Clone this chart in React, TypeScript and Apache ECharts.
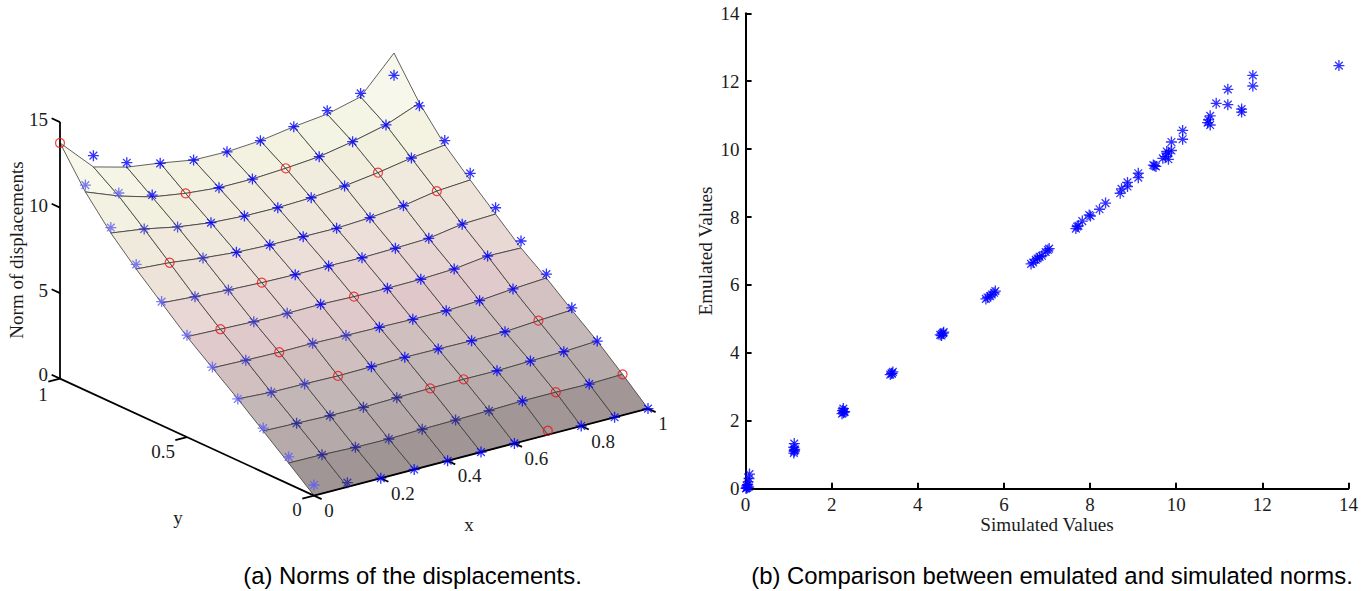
import React, { useEffect, useRef } from "react";
import * as echarts from "echarts";

// ---- left panel: norm of displacements on an 11 x 11 grid (rows y = 1 ... 0, columns x = 0 ... 1)
const gridXs = [0, 0.1, 0.2, 0.3, 0.4, 0.5, 0.6, 0.7, 0.8, 0.9, 1];
const gridYs = [1, 0.9, 0.8, 0.7, 0.6, 0.5, 0.4, 0.3, 0.2, 0.1, 0];
const surfaceZ = [
  [13.78, 11.87, 11.35, 11.08, 10.75, 10.72, 10.86, 11.17, 11.4, 11.9, 13.95],
  [11.6, 10.85, 10.29, 9.99, 9.81, 9.81, 9.93, 10.1, 10.47, 10.94, 11.71],
  [9.88, 9.61, 9.22, 8.96, 8.84, 8.82, 8.89, 9.07, 9.34, 9.69, 9.94],
  [8.46, 8.32, 8.09, 7.91, 7.83, 7.81, 7.79, 7.9, 8.09, 8.44, 8.58],
  [7.16, 7.02, 6.9, 6.82, 6.78, 6.78, 6.75, 6.8, 6.87, 7.19, 7.27],
  [5.87, 5.8, 5.73, 5.71, 5.73, 5.67, 5.65, 5.67, 5.76, 6.01, 5.97],
  [4.73, 4.67, 4.63, 4.64, 4.59, 4.56, 4.52, 4.51, 4.59, 4.77, 4.9],
  [3.6, 3.48, 3.46, 3.42, 3.45, 3.49, 3.47, 3.44, 3.46, 3.6, 3.71],
  [2.41, 2.35, 2.29, 2.27, 2.32, 2.36, 2.38, 2.37, 2.43, 2.47, 2.58],
  [1.22, 1.2, 1.12, 1.1, 1.16, 1.19, 1.23, 1.29, 1.29, 1.26, 1.32],
  [0, 0, 0, 0, 0, 0, 0, 0, 0, 0, 0],
];
const emulatedZ = [
  [13.78, 12.53, 11.61, 11.06, 10.75, 10.72, 10.86, 11.17, 11.6, 12.1, 12.65],
  [12.0, 11.03, 10.4, 9.99, 9.81, 9.81, 9.93, 10.1, 10.47, 10.94, 11.55],
  [10.2, 9.61, 9.22, 8.96, 8.84, 8.82, 8.89, 9.07, 9.34, 9.69, 10.2],
  [8.73, 8.32, 8.09, 7.91, 7.83, 7.81, 7.79, 7.9, 8.09, 8.44, 8.97],
  [7.24, 7.02, 6.9, 6.82, 6.78, 6.78, 6.75, 6.8, 6.87, 7.19, 7.64],
  [5.96, 5.8, 5.73, 5.71, 5.73, 5.67, 5.65, 5.67, 5.76, 6.01, 6.38],
  [4.78, 4.67, 4.63, 4.64, 4.59, 4.56, 4.52, 4.51, 4.59, 4.77, 5.13],
  [3.6, 3.48, 3.46, 3.42, 3.45, 3.49, 3.47, 3.44, 3.46, 3.6, 3.84],
  [2.58, 2.35, 2.29, 2.27, 2.32, 2.36, 2.38, 2.37, 2.43, 2.47, 2.58],
  [1.58, 1.2, 1.12, 1.1, 1.16, 1.19, 1.23, 1.29, 1.29, 1.26, 1.32],
  [0.62, 0.25, 0, 0, 0, 0, 0, 0.23, 0, 0, 0],
];
// r = training point (red ring), otherwise tone of the emulated star
const markKinds = [
  "r0000000000",
  "110r00r0000",
  "12200000r00",
  "1r2000000r0",
  "122r0000000",
  "1r220r00000",
  "12r22000000",
  "122r00000r0",
  "13333rr0000",
  "13333330r0r",
  "1300000r000",
];
const toneColors = ["#0000ff", "#5c5cf2", "#3434c8", "#20209a"];
const colourStops = [
  "#978c8c", "#a89c9c", "#bbaeae", "#c4b7b7", "#d0bfbf", "#dfc7c9", "#e6d2d1", "#ebddd8",
  "#eee5da", "#f0eadd", "#f2f0df", "#f5f5e5", "#f7f7ea", "#f8f8ee", "#f9f9f0",
];
const xTicks3d = [0, 0.2, 0.4, 0.6, 0.8, 1];
const yTicks3d = [0, 0.5, 1];
const zTicks3d = [0, 5, 10, 15];

// ---- right panel: simulated against emulated norms
const simulated = [
  13.78, 11.78, 11.78, 11.2, 11.2, 10.93, 11.52, 11.52, 10.79, 10.75, 10.73, 10.79, 10.15, 10.15,
  9.89, 9.89, 9.78, 9.82, 9.75, 9.82, 9.69, 9.5, 9.47, 9.53, 9.12, 9.12, 8.87, 8.87, 8.73, 8.7,
  8.36, 8.22, 8.01, 7.98, 7.82, 7.7, 7.67, 7.73, 7.02, 7.05, 6.97, 6.88, 6.83, 6.74, 6.78, 6.63, 6.68,
  5.77, 5.8, 5.72, 5.68, 5.58, 5.62, 4.6, 4.59, 4.56, 4.52, 4.55, 3.42, 3.39, 3.36, 3.4,
  2.27, 2.25, 2.29, 2.27, 2.24, 2.3, 1.13, 1.12, 1.14, 1.13, 1.12, 1.13,
  0.09, 0.08, 0.06, 0.05, 0.03, 0.04, 0.02, 0.01, 0.07,
];
const emulated = [
  12.46, 12.17, 11.86, 11.76, 11.31, 11.35, 11.18, 11.09, 10.98, 10.86, 10.78, 10.71, 10.55, 10.29,
  10.21, 9.96, 9.93, 9.88, 9.78, 9.7, 9.73, 9.51, 9.53, 9.49, 9.29, 9.16, 9.02, 8.9, 8.83, 8.7,
  8.41, 8.23, 8.03, 8.06, 7.88, 7.72, 7.66, 7.74, 7.03, 7.07, 6.97, 6.86, 6.83, 6.74, 6.78, 6.62, 6.66,
  5.77, 5.82, 5.72, 5.67, 5.59, 5.63, 4.61, 4.58, 4.56, 4.53, 4.51, 3.44, 3.4, 3.36, 3.39,
  2.36, 2.3, 2.27, 2.24, 2.21, 2.26, 1.33, 1.22, 1.16, 1.1, 1.05, 1.13,
  0.43, 0.3, 0.2, 0.12, 0.08, 0.03, 0.02, 0.01, 0.05,
];
const axisTicks2d = [0, 2, 4, 6, 8, 10, 12, 14];

const ASTERISK =
  "path://M44 0H56V100H44ZM0 44H100V56H0ZM11 19L19 11L89 81L81 89ZM81 11L89 19L19 89L11 81Z";
const SERIF = '"Liberation Serif", serif';
const INK = "#1c1c1c";

// Oblique view of the unit box; results are in the hidden grid's axis units.
function project(x: number, y: number, z: number): [number, number] {
  return [314 + 334 * x - 254 * y, 495.6 - 87 * x - 117 * y - 17.1 * z];
}

function zColour(z: number) {
  return echarts.color.lerp(Math.min(1, z / 14), colourStops) as string;
}

function buildOption(): any {
  const cells: number[][] = [];
  for (let j = 0; j < gridYs.length - 1; j++)
    for (let k = 0; k < gridXs.length - 1; k++) cells.push([k, j]);

  const stars: any[] = [];
  const rings: number[][] = [];
  gridYs.forEach((y, j) =>
    gridXs.forEach((x, k) => {
      const kind = markKinds[j][k];
      if (kind === "r") rings.push(project(x, y, emulatedZ[j][k]));
      else
        stars.push({
          value: project(x, y, emulatedZ[j][k]),
          itemStyle: { color: toneColors[Number(kind)] },
        });
    }),
  );

  const frame: number[][][] = [
    [[0, 1, 0], [0, 1, 15]],
    [[0, 1, 0], [0, 0, 0]],
    [[0, 0, 0], [1, 0, 0]],
  ];
  xTicks3d.forEach((t) => frame.push([[t, 0, 0], [t, -0.03, 0]]));
  yTicks3d.forEach((t) => frame.push([[0, t, 0], [-0.035, t, 0]]));
  zTicks3d.forEach((t) => frame.push([[0, 1, t], [0, 1.033, t]]));

  const tickLabels: { text: string; pos: [number, number]; dx: number; dy: number; align: string }[] = [];
  xTicks3d.forEach((t) =>
    tickLabels.push({ text: String(t), pos: project(t, 0, 0), dx: t === 0 || t === 1 ? 15 : 22, dy: 15, align: "center" }),
  );
  yTicks3d.forEach((t) =>
    tickLabels.push({ text: String(t), pos: project(0, t, 0), dx: t === 0.5 ? -24 : -17, dy: t === 1 ? 15.5 : 14, align: "center" }),
  );
  zTicks3d.forEach((t) =>
    tickLabels.push({ text: String(t), pos: project(0, 1, t), dx: -12, dy: t === 0 ? -3.8 : -2.5, align: "right" }),
  );

  return {
    animation: false,
    backgroundColor: "#ffffff",
    grid: [
      { left: 0, top: 0, width: 700, height: 591 },
      { left: 745.6, top: 13.3, width: 602.8, height: 475.4 },
    ],
    xAxis: [
      { gridIndex: 0, type: "value", min: 0, max: 700, show: false },
      {
        gridIndex: 1,
        type: "value",
        min: 0,
        max: axisTicks2d[axisTicks2d.length - 1],
        interval: 2,
        splitLine: { show: false },
        axisLine: { lineStyle: { color: "#000", width: 2 } },
        axisTick: { inside: true, length: 6, lineStyle: { color: "#000", width: 2 } },
        axisLabel: { fontFamily: SERIF, fontSize: 19, color: INK, margin: 6 },
        name: "Simulated Values",
        nameLocation: "middle",
        nameGap: 26,
        nameMoveOverlap: false,
        nameTextStyle: { fontFamily: SERIF, fontSize: 19.2, color: INK },
      },
    ],
    yAxis: [
      { gridIndex: 0, type: "value", min: 0, max: 591, inverse: true, show: false },
      {
        gridIndex: 1,
        type: "value",
        min: 0,
        max: axisTicks2d[axisTicks2d.length - 1],
        interval: 2,
        splitLine: { show: false },
        axisLine: { show: true, lineStyle: { color: "#000", width: 2 } },
        axisTick: { show: true, inside: true, length: 6, lineStyle: { color: "#000", width: 2 } },
        axisLabel: { fontFamily: SERIF, fontSize: 19, color: INK, margin: 6 },
        name: "Emulated Values",
        nameLocation: "middle",
        nameRotate: 90,
        nameGap: 31,
        nameTextStyle: { fontFamily: SERIF, fontSize: 19.2, color: INK },
      },
    ],
    graphic: [
      { type: "text", x: 412.5, y: 575, style: { text: "(a) Norms of the displacements.", font: '23.9px "Liberation Sans", sans-serif', fill: "#000", align: "center", verticalAlign: "middle" } },
      { type: "text", x: 1052, y: 575, style: { text: "(b) Comparison between emulated and simulated norms.", font: '23.9px "Liberation Sans", sans-serif', fill: "#000", align: "center", verticalAlign: "middle" } },
      { type: "text", x: 178, y: 517, style: { text: "y", font: `19px ${SERIF}`, fill: INK, align: "center", verticalAlign: "middle" } },
      { type: "text", x: 469, y: 524, style: { text: "x", font: `19px ${SERIF}`, fill: INK, align: "center", verticalAlign: "middle" } },
      { type: "text", x: 16, y: 250, rotation: Math.PI / 2, style: { text: "Norm of displacements", font: `19px ${SERIF}`, fill: INK, align: "center", verticalAlign: "middle" } },
    ],
    series: [
      {
        type: "custom",
        xAxisIndex: 0,
        yAxisIndex: 0,
        silent: true,
        clip: false,
        data: cells,
        renderItem: (params: any, api: any) => {
          const k = api.value(0);
          const j = api.value(1);
          const corners: [number, number][] = [[k, j], [k + 1, j], [k + 1, j + 1], [k, j + 1]];
          const points = corners.map(([a, b]) => api.coord(project(gridXs[a], gridYs[b], surfaceZ[b][a])));
          const mean = corners.reduce((s, [a, b]) => s + surfaceZ[b][a], 0) / 4;
          return {
            type: "polygon",
            shape: { points },
            style: { fill: zColour(mean), stroke: "#3a3a3a", lineWidth: 0.8 },
          };
        },
      },
      {
        type: "custom",
        xAxisIndex: 0,
        yAxisIndex: 0,
        silent: true,
        clip: false,
        data: frame.map((_, i) => [i]),
        renderItem: (params: any, api: any) => {
          const [a, b] = frame[api.value(0)];
          const p = api.coord(project(a[0], a[1], a[2]));
          const q = api.coord(project(b[0], b[1], b[2]));
          return {
            type: "line",
            shape: { x1: p[0], y1: p[1], x2: q[0], y2: q[1] },
            style: { stroke: "#000", lineWidth: 1.8 },
          };
        },
      },
      {
        type: "custom",
        xAxisIndex: 0,
        yAxisIndex: 0,
        silent: true,
        clip: false,
        data: tickLabels.map((_, i) => [i]),
        renderItem: (params: any, api: any) => {
          const t = tickLabels[api.value(0)];
          const p = api.coord(t.pos);
          return {
            type: "text",
            style: {
              x: p[0] + t.dx,
              y: p[1] + t.dy,
              text: t.text,
              font: `19px ${SERIF}`,
              fill: INK,
              align: t.align,
              verticalAlign: "middle",
            },
          };
        },
      },
      {
        type: "scatter",
        xAxisIndex: 0,
        yAxisIndex: 0,
        silent: true,
        symbol: ASTERISK,
        symbolSize: 11,
        data: stars,
      },
      {
        type: "scatter",
        xAxisIndex: 0,
        yAxisIndex: 0,
        silent: true,
        symbol: "circle",
        symbolSize: 9,
        itemStyle: { color: "rgba(0,0,0,0)", borderColor: "#f01414", borderWidth: 1.2 },
        data: rings,
      },
      {
        type: "scatter",
        xAxisIndex: 1,
        yAxisIndex: 1,
        silent: true,
        clip: false,
        symbol: ASTERISK,
        symbolSize: 11,
        itemStyle: { color: "#0000ff" },
        data: simulated.map((s, i) => [s, emulated[i]]),
      },
    ],
  };
}

export default function App() {
  const ref = useRef<HTMLDivElement>(null);
  useEffect(() => {
    const chart = echarts.init(ref.current!, undefined, { renderer: "svg" });
    chart.setOption(buildOption());
    return () => chart.dispose();
  }, []);
  return <div ref={ref} style={{ position: "absolute", left: 0, top: 0, width: 1372, height: 591 }} />;
}
